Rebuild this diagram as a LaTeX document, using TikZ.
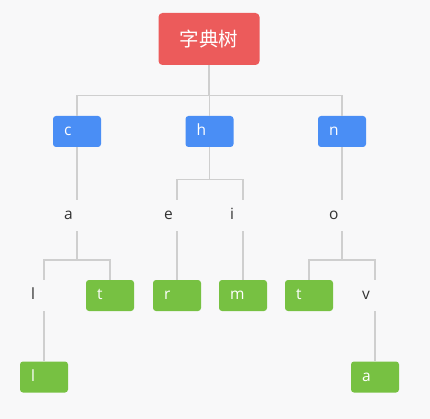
\documentclass[tikz,border=0pt]{standalone}
\usepackage{fontspec}
\setmainfont{Open Sans}
\newfontfamily\cjk{Noto Sans CJK SC}
\definecolor{bgc}{HTML}{F8F8F9}
\definecolor{rootc}{HTML}{EC5B5B}
\definecolor{bluec}{HTML}{4A8EF5}
\definecolor{greenc}{HTML}{77C142}
\definecolor{linec}{HTML}{CFCFCF}
\definecolor{txtc}{HTML}{333333}
\tikzset{
  base/.style={rectangle, rounded corners=3pt, minimum height=31pt, text width=26pt,
    inner xsep=11pt, inner ysep=0pt, align=left, font=\fontsize{15.5}{18}\selectfont,
    text height=11pt, text depth=3pt},
  rootbox/.style={rectangle, rounded corners=4pt, fill=rootc, text=white,
    minimum width=101pt, minimum height=52pt, inner sep=0pt,
    font=\cjk\fontsize{19.5}{22}\selectfont},
  bluebox/.style={base, fill=bluec, text=white},
  greenbox/.style={base, fill=greenc, text=white},
  plain/.style={base, text=txtc},
  conn/.style={draw=linec, line width=1.4pt,
    to path={(\tikztostart.south) |- ([yshift=20pt]\tikztotarget.north) -- (\tikztotarget.north)}}
}
\begin{document}
\begin{tikzpicture}[x=1pt,y=-1pt]
\fill[bgc] (0,0) rectangle (430,419);
\useasboundingbox (0,0) rectangle (430,419);
\node[rootbox] (root) at (209,39) {字典树};
\node[bluebox] (c) at (77,131.5) {c};
\node[bluebox] (h) at (209.5,131.5) {h};
\node[bluebox] (n) at (342,131.5) {n};
\node[plain] (a) at (77,215.5) {a};
\node[plain] (e) at (177,215.5) {e};
\node[plain] (i) at (243,215.5) {i};
\node[plain] (o) at (342,215.5) {o};
\node[plain] (l1) at (44,295.5) {l};
\node[greenbox] (t1) at (110,295.5) {t};
\node[greenbox] (r) at (177,295.5) {r};
\node[greenbox] (m) at (243,295.5) {m};
\node[greenbox] (t2) at (309,295.5) {t};
\node[plain] (v) at (375,295.5) {v};
\node[greenbox] (l2) at (44,377) {l};
\node[greenbox] (a2) at (375,377) {a};
\begin{scope}[line cap=butt]
\draw[conn] (root) to (c) (root) to (h) (root) to (n)
  (c) to (a) (h) to (e) (h) to (i) (n) to (o)
  (a) to (l1) (a) to (t1) (e) to (r) (i) to (m) (o) to (t2) (o) to (v)
  (l1) to (l2) (v) to (a2);
\end{scope}
\end{tikzpicture}
\end{document}
